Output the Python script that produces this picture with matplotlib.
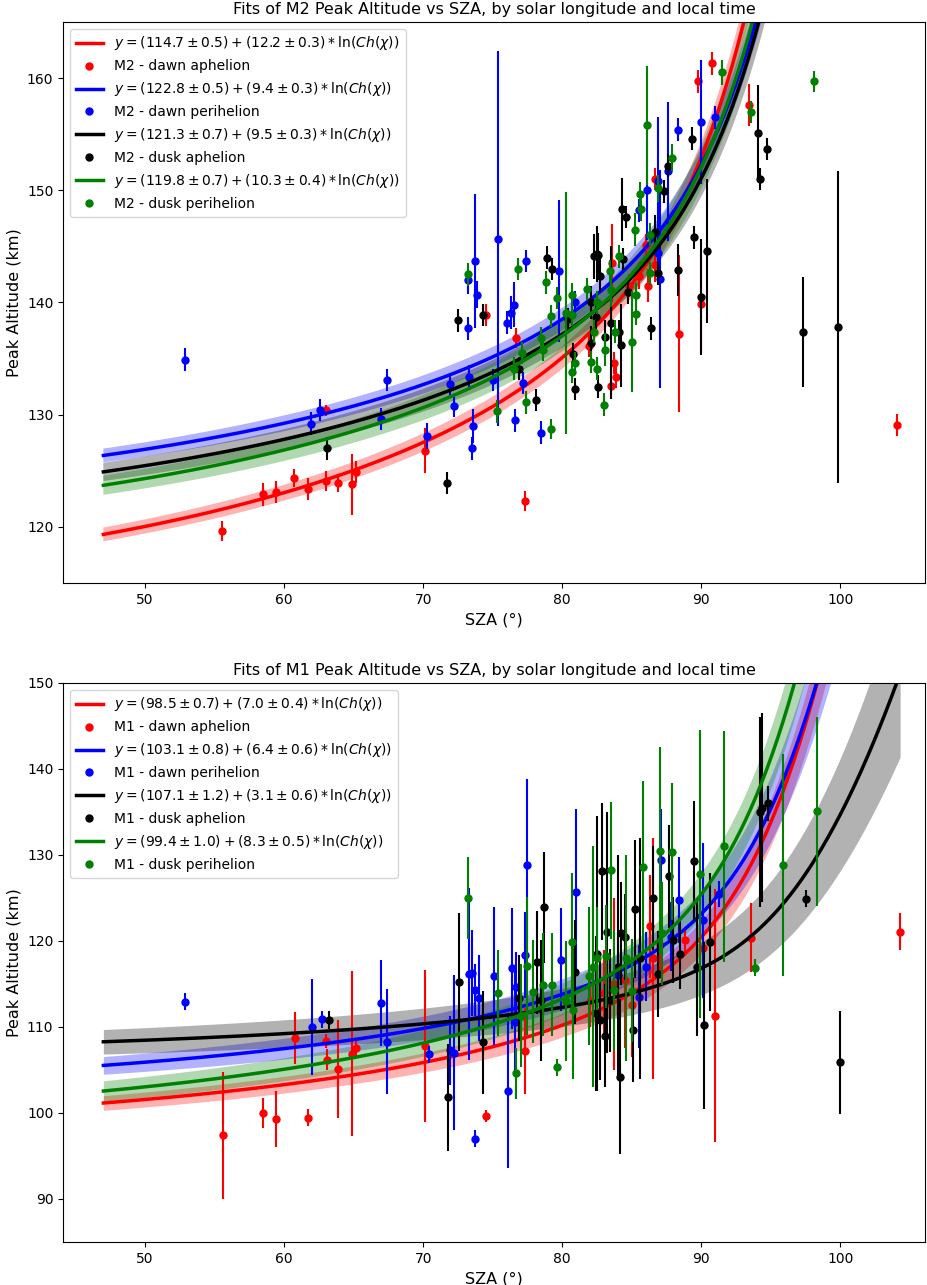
import matplotlib
matplotlib.use("Agg")
import matplotlib.pyplot as plt
import numpy as np

# ---- fit parameters: (a, da, b, db) for y = a + b*ln(Ch(chi))
groups = ["dawn aphelion", "dawn perihelion", "dusk aphelion", "dusk perihelion"]
colors = ["red", "blue", "black", "green"]

m2_fits = [(114.7, 0.5, 12.2, 0.3), (122.8, 0.5, 9.4, 0.3),
           (121.3, 0.7, 9.5, 0.3), (119.8, 0.7, 10.3, 0.4)]
m1_fits = [(98.5, 0.7, 7.0, 0.4), (103.1, 0.8, 6.4, 0.6),
           (107.1, 1.2, 3.1, 0.6), (99.4, 1.0, 8.3, 0.5)]

# ---- M2 observations (sza, altitude, error)
m2_dawn_aph = [(55.5, 119.6, 0.9), (58.5, 122.9, 1.0), (59.4, 123.1, 1.0), (60.7, 124.4, 0.8),
               (61.7, 123.4, 1.0), (63.0, 124.1, 0.9), (63.0, 130.4, 0.5), (63.9, 123.9, 0.8),
               (64.9, 123.8, 2.7), (65.2, 124.9, 1.0), (70.1, 126.8, 2.0), (74.5, 138.9, 1.0),
               (76.7, 136.8, 0.9), (77.3, 122.3, 0.9), (81.9, 136.1, 1.0), (83.5, 132.6, 1.2),
               (83.7, 134.6, 1.0), (83.9, 133.4, 1.0), (83.6, 143.5, 3.5), (84.8, 141.5, 1.0),
               (85.5, 142.4, 1.2), (86.0, 145.1, 1.0), (86.2, 141.5, 1.5), (86.7, 143.3, 1.5),
               (86.7, 151.0, 1.0), (88.4, 137.2, 7.0), (89.8, 159.7, 1.0), (90.0, 139.9, 4.4),
               (90.8, 161.3, 1.0), (93.4, 157.6, 1.9), (104.1, 129.1, 1.0)]
m2_dawn_per = [(52.9, 134.9, 1.0), (61.9, 129.2, 1.0), (62.6, 130.4, 1.0), (67.0, 129.6, 1.0),
               (67.4, 133.1, 1.0), (70.3, 128.1, 1.2), (71.9, 132.7, 1.0), (72.2, 130.8, 1.0),
               (73.2, 142.0, 1.2), (73.2, 137.7, 1.0), (73.3, 133.4, 1.0), (73.5, 127.0, 1.0),
               (73.6, 129.0, 1.5), (73.7, 143.7, 6.0), (73.9, 140.7, 1.2), (75.0, 133.1, 1.0),
               (75.4, 145.7, 16.7), (76.0, 138.2, 1.0), (76.3, 139.1, 1.5), (76.5, 139.8, 2.0),
               (76.6, 129.5, 1.0), (77.2, 132.8, 1.0), (77.4, 143.7, 1.0), (78.5, 128.4, 1.0),
               (79.8, 142.8, 6.3), (80.9, 140.0, 1.0), (85.5, 148.2, 1.0), (86.1, 150.0, 4.4),
               (86.9, 150.8, 5.7), (86.9, 144.4, 1.0), (87.0, 142.1, 9.7), (87.6, 151.7, 6.2),
               (88.3, 155.4, 1.0), (90.0, 156.1, 5.5), (91.0, 156.5, 1.0)]
m2_dusk_aph = [(63.1, 127.0, 1.0), (71.7, 123.9, 1.0), (72.5, 138.4, 1.0), (74.3, 138.9, 1.0),
               (76.9, 134.1, 1.0), (78.1, 131.3, 1.0), (78.9, 144.0, 1.0), (79.3, 143.0, 1.0),
               (80.4, 138.5, 1.0), (80.8, 135.4, 1.0), (80.9, 132.3, 1.0), (82.1, 140.0, 1.5),
               (82.1, 136.4, 1.5), (82.3, 144.1, 2.0), (82.4, 138.7, 1.5), (82.5, 144.3, 2.5),
               (82.6, 132.5, 1.0), (82.6, 144.2, 2.0), (82.7, 142.4, 1.5), (83.1, 136.9, 1.5),
               (83.5, 138.2, 6.8), (84.1, 137.4, 1.0), (84.2, 136.2, 3.7), (84.3, 148.3, 2.8),
               (84.4, 143.9, 1.0), (84.6, 147.6, 1.0), (84.7, 140.9, 1.0), (86.4, 137.7, 1.0),
               (86.7, 146.3, 1.5), (86.9, 142.6, 1.0), (87.3, 149.9, 1.0), (87.6, 152.2, 1.0),
               (88.3, 142.9, 2.3), (89.3, 154.6, 1.0), (89.5, 145.8, 1.0), (90.0, 140.5, 5.2),
               (90.4, 144.6, 6.4), (94.1, 155.1, 4.3), (94.2, 151.0, 1.0), (94.7, 153.7, 1.0),
               (97.3, 137.4, 4.9), (99.8, 137.8, 13.9)]
m2_dusk_per = [(73.2, 142.5, 1.0), (75.3, 130.3, 1.0), (76.5, 134.1, 1.0), (76.8, 143.0, 1.0),
               (77.1, 135.5, 1.0), (77.4, 131.1, 1.0), (78.5, 136.8, 1.0), (78.6, 135.8, 1.0),
               (78.8, 141.8, 1.0), (79.2, 128.7, 0.9), (79.2, 138.8, 1.0), (79.6, 140.4, 1.0),
               (80.3, 139.05, 10.8), (80.7, 140.7, 1.0), (80.7, 138.9, 1.0), (80.7, 133.8, 1.0),
               (80.9, 134.6, 1.0), (81.8, 141.2, 1.0), (82.1, 134.7, 1.0), (82.3, 137.4, 1.0),
               (82.5, 140.0, 1.0), (82.5, 134.1, 1.0), (83.0, 130.9, 1.0), (83.1, 135.8, 1.5),
               (83.4, 142.8, 1.0), (83.5, 141.1, 1.5), (83.8, 137.4, 1.0), (84.1, 144.1, 1.0),
               (85.0, 136.5, 4.5), (85.2, 146.5, 1.5), (85.3, 140.7, 1.0), (85.3, 139.0, 1.0),
               (85.6, 149.7, 1.0), (85.7, 148.3, 1.0), (86.1, 155.8, 5.3), (86.3, 146.05, 1.0),
               (86.3, 142.6, 1.0), (86.9, 150.2, 1.2), (87.9, 152.9, 1.2), (91.5, 160.5, 1.1),
               (93.6, 157.0, 1.0), (98.1, 159.7, 0.9)]

# ---- M1 observations (sza, altitude, error)
m1_dawn_aph = [(55.6, 97.4, 7.4), (58.5, 100.0, 1.7), (59.4, 99.3, 3.3), (60.8, 108.7, 3.0),
               (61.7, 99.45, 1.0), (63.0, 108.4, 0.8), (63.1, 106.2, 1.2), (63.9, 105.1, 5.7),
               (64.9, 106.9, 9.6), (65.2, 107.6, 1.0), (70.1, 107.8, 8.8), (74.5, 99.7, 0.7),
               (77.3, 107.2, 5.0), (82.0, 113.0, 3.0), (83.0, 114.0, 5.0), (83.7, 115.0, 10.0),
               (84.5, 115.5, 8.0), (85.0, 112.5, 6.0), (86.3, 121.7, 6.0), (86.5, 118.0, 14.0),
               (87.0, 119.5, 3.0), (88.85, 120.1, 1.5), (90.1, 119.15, 1.5), (91.0, 111.3, 14.7),
               (93.6, 120.4, 4.0), (104.3, 121.1, 2.2)]
m1_dawn_per = [(52.9, 112.95, 1.0), (62.0, 110.0, 5.6), (62.7, 110.9, 1.0), (67.0, 112.75, 5.0),
               (67.4, 108.3, 6.1), (70.4, 106.8, 1.0), (71.9, 107.3, 4.0), (72.2, 107.0, 9.0),
               (73.3, 116.2, 10.0), (73.5, 116.3, 5.0), (73.7, 97.0, 1.0), (73.74, 114.3, 3.0),
               (74.0, 113.4, 5.0), (75.1, 115.9, 8.0), (76.1, 102.6, 9.0), (76.4, 116.8, 7.0),
               (76.6, 110.6, 6.0), (76.7, 114.7, 4.0), (77.3, 118.4, 5.0), (77.5, 128.8, 10.0),
               (79.9, 117.8, 6.0), (81.0, 125.7, 9.6), (84.0, 116.0, 5.0), (85.5, 113.5, 6.0),
               (86.0, 117.0, 4.0), (87.1, 129.4, 6.0), (87.8, 120.5, 4.0), (88.4, 124.8, 5.0),
               (90.1, 122.4, 9.0), (91.3, 125.5, 1.5)]
m1_dusk_aph = [(63.2, 110.8, 1.0), (71.8, 101.8, 6.2), (72.6, 115.2, 8.0), (74.3, 108.2, 6.0),
               (76.9, 113.4, 5.0), (78.2, 117.5, 6.0), (78.5, 113.1, 7.0), (78.7, 123.9, 6.5),
               (80.9, 116.4, 6.0), (82.4, 111.6, 9.0), (82.5, 118.5, 16.0), (82.7, 110.8, 7.0),
               (82.85, 128.1, 8.0), (83.05, 109.0, 6.0), (83.2, 121.0, 14.0), (83.45, 113.1, 6.0),
               (84.0, 117.0, 13.0), (84.2, 120.9, 6.0), (84.5, 120.5, 5.0), (84.17, 104.2, 9.0),
               (85.1, 109.65, 6.0), (85.2, 123.7, 8.0), (85.6, 118.0, 14.0), (86.5, 125.0, 6.0),
               (86.9, 116.2, 5.0), (87.7, 127.5, 6.0), (88.0, 120.1, 5.0), (88.5, 118.45, 4.0),
               (89.45, 129.3, 7.0), (89.7, 117.0, 8.0), (90.2, 110.2, 9.7), (90.6, 119.9, 8.0),
               (94.2, 135.0, 11.0), (94.4, 135.5, 11.0), (94.8, 136.0, 2.0), (97.5, 124.9, 1.0),
               (99.95, 105.9, 6.0)]
m1_dusk_per = [(73.2, 125.0, 4.8), (75.4, 114.0, 5.0), (76.7, 104.6, 3.0), (77.0, 111.3, 6.0),
               (77.5, 117.1, 8.0), (77.9, 114.1, 6.0), (78.6, 114.9, 6.0), (79.3, 114.9, 6.0),
               (79.6, 105.3, 1.0), (80.3, 113.0, 7.0), (80.7, 119.9, 8.0), (80.8, 112.0, 8.0),
               (81.9, 115.9, 8.0), (82.2, 117.0, 14.0), (82.5, 118.0, 6.0), (83.15, 118.2, 6.0),
               (83.5, 128.2, 8.0), (83.7, 114.3, 7.0), (84.6, 118.0, 12.0), (85.0, 114.2, 6.0),
               (85.8, 128.6, 10.0), (87.05, 130.5, 12.0), (87.2, 120.9, 6.0), (87.9, 130.4, 8.0),
               (89.9, 127.8, 16.7), (91.6, 131.0, 13.4), (93.85, 116.9, 1.0), (95.9, 128.8, 12.9),
               (98.3, 135.1, 11.0)]

m2_obs = [m2_dawn_aph, m2_dawn_per, m2_dusk_aph, m2_dusk_per]
m1_obs = [m1_dawn_aph, m1_dawn_per, m1_dusk_aph, m1_dusk_per]


def chapman(chi_deg, X=335.0):
    # grazing-incidence column integral along the ray toward the sun (units of scale height)
    chi = np.radians(chi_deg)[:, None]
    s = np.linspace(0, 300, 20001)[None, :]
    r = np.sqrt(X ** 2 + s ** 2 + 2 * X * s * np.cos(chi))
    return np.trapezoid(np.exp(X - r), s, axis=1)


sza = np.linspace(47, 104.3, 300)
ln_ch = np.log(chapman(sza))


def draw(ax, fits, obs, layer, title, ylim):
    for fit, data, c, g in zip(fits, obs, colors, groups):
        a, da, b, db = fit
        ax.plot(sza, a + b * ln_ch, color=c, lw=2.5,
                label=r'$y = (%.1f \pm %.1f) + (%.1f \pm %.1f) * \ln(Ch(\chi))$' % (a, da, b, db))
        ax.fill_between(sza, (a - da) + (b - db) * ln_ch, (a + da) + (b + db) * ln_ch,
                        color=c, alpha=0.3, lw=0)
        d = np.array(data)
        ax.errorbar(d[:, 0], d[:, 1], yerr=d[:, 2], fmt='none', ecolor=c, elinewidth=1.5)
        ax.plot(d[:, 0], d[:, 1], 'o', color=c, ms=5, label='%s - %s' % (layer, g))
    ax.set_xlim(44.1, 106.1)
    ax.set_ylim(*ylim)
    ax.set_title(title, fontsize=11.5)
    ax.set_xlabel('SZA (°)', fontsize=11.5)
    ax.set_ylabel('Peak Altitude (km)', fontsize=11.5)
    ax.tick_params(labelsize=10)
    ax.legend(loc='upper left', fontsize=10)


fig = plt.figure(figsize=(9.27, 12.85), dpi=100)
ax1 = fig.add_axes([0.068, 0.5463, 0.930, 0.4366])
ax2 = fig.add_axes([0.068, 0.0335, 0.930, 0.4350])

draw(ax1, m2_fits, m2_obs, 'M2',
     'Fits of M2 Peak Altitude vs SZA, by solar longitude and local time', (115, 165))
draw(ax2, m1_fits, m1_obs, 'M1',
     'Fits of M1 Peak Altitude vs SZA, by solar longitude and local time', (85, 150))

fig.savefig('out.png', dpi=100)
